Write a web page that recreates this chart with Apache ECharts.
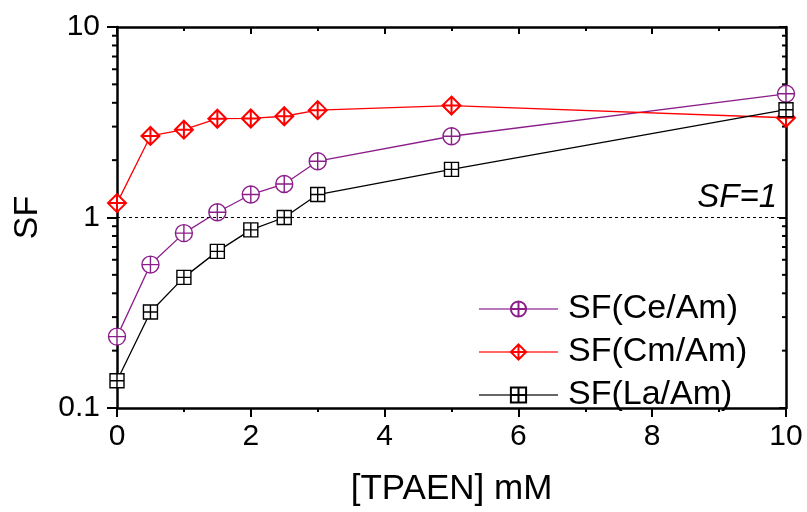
<!DOCTYPE html>
<html>
<head>
<meta charset="utf-8">
<script src="https://cdn.jsdelivr.net/npm/echarts@6/dist/echarts.min.js"></script>
<style>html,body{margin:0;padding:0;background:#fff;}#c{width:807px;height:512px;}</style>
</head>
<body>
<div id="c"></div>
<script>
const xValues = [0, 0.5, 1, 1.5, 2, 2.5, 3, 5, 10];
const sfCeAm = [0.237, 0.566, 0.828, 1.066, 1.32, 1.50, 1.975, 2.67, 4.46];
const sfCmAm = [1.19, 2.68, 2.89, 3.30, 3.31, 3.40, 3.66, 3.87, 3.34];
const sfLaAm = [0.139, 0.319, 0.485, 0.664, 0.861, 1.00, 1.32, 1.79, 3.68];
const seriesNames = ['SF(Ce/Am)', 'SF(Cm/Am)', 'SF(La/Am)'];
const refLineValue = 1;
const refLineLabel = 'SF=1';
const yMinorTickValues = [0.2, 0.3, 0.4, 0.5, 0.6, 0.7, 0.8, 0.9, 2, 3, 4, 5, 6, 7, 8, 9];
const xAxisTitle = '[TPAEN] mM';
const yAxisTitle = 'SF';

const FONT = '"Liberation Sans", Arial, sans-serif';
const pair = (ys) => xValues.map((x, i) => [x, ys[i]]);

const circlePlus = 'path://M10,0 A10,10 0 1,1 10,20 A10,10 0 1,1 10,0 Z M0,10 L20,10 M10,0 L10,20';
const diamondPlus = 'path://M10,0 L20,10 L10,20 L0,10 Z M0,10 L20,10 M10,0 L10,20';
const squarePlus = 'path://M0,0 L20,0 L20,20 L0,20 Z M0,10 L20,10 M10,0 L10,20';

const chart = echarts.init(document.getElementById('c'), null, {renderer: 'canvas'});

const axisLineStyle = {color: '#000', width: 2.5};
const tickStyle = {color: '#000', width: 2};

chart.setOption({
  animation: false,
  backgroundColor: '#fff',
  grid: {left: 117, right: 21, top: 27, bottom: 102, containLabel: false},
  legend: {
    data: seriesNames,
    orient: 'vertical',
    left: 478,
    top: 292,
    itemWidth: 79,
    itemHeight: 19,
    itemGap: 9,
    padding: 0,
    lineStyle: {opacity: 0.6},
    textStyle: {fontFamily: FONT, fontSize: 34, color: '#000', lineHeight: 34, padding: [0, 0, 0, 5]}
  },
  xAxis: [{
    type: 'value', min: 0, max: 10, interval: 2,
    axisLine: {show: true, onZero: false, lineStyle: axisLineStyle},
    axisTick: {show: true, inside: false, length: 9, lineStyle: tickStyle},
    minorTick: {show: true, splitNumber: 2, length: 4, lineStyle: tickStyle},
    splitLine: {show: false},
    axisLabel: {fontFamily: FONT, fontSize: 30, color: '#000', margin: 14},
    name: xAxisTitle, nameLocation: 'middle', nameGap: 64,
    nameTextStyle: {fontFamily: FONT, fontSize: 35, color: '#000'}
  }, {
    type: 'value', min: 0, max: 10, interval: 2, position: 'top',
    axisLine: {show: true, onZero: false, lineStyle: axisLineStyle},
    axisTick: {show: true, inside: true, length: 7, lineStyle: tickStyle},
    minorTick: {show: true, splitNumber: 2, length: 4, lineStyle: tickStyle},
    splitLine: {show: false},
    axisLabel: {show: false}
  }],
  yAxis: [{
    type: 'log', logBase: 10, min: 0.1, max: 10,
    axisLine: {show: true, onZero: false, lineStyle: axisLineStyle},
    axisTick: {show: true, inside: false, length: 10, lineStyle: tickStyle},
    minorTick: {show: false},
    splitLine: {show: false},
    axisLabel: {fontFamily: FONT, fontSize: 30, color: '#000', margin: 17,
      formatter: (v) => String(Number(Number(v).toPrecision(3)))},
    name: yAxisTitle, nameLocation: 'middle', nameGap: 72,
    nameTextStyle: {fontFamily: FONT, fontSize: 34, color: '#000'}
  }, {
    type: 'log', logBase: 10, min: 0.1, max: 10, position: 'right',
    axisLine: {show: true, onZero: false, lineStyle: axisLineStyle},
    axisTick: {show: true, inside: true, length: 7, lineStyle: tickStyle},
    minorTick: {show: false},
    splitLine: {show: false},
    axisLabel: {show: false}
  }],
  series: [
    {
      name: seriesNames[0], type: 'line', data: pair(sfCeAm),
      symbol: circlePlus, symbolSize: 17,
      lineStyle: {color: '#8B1E8B', width: 1.3},
      itemStyle: {color: '#fff', borderColor: '#8B1E8B', borderWidth: 1.4},
      z: 3
    },
    {
      name: seriesNames[1], type: 'line', data: pair(sfCmAm),
      symbol: diamondPlus, symbolSize: 18,
      lineStyle: {color: '#FF0000', width: 1.3},
      itemStyle: {color: '#fff', borderColor: '#FF0000', borderWidth: 2},
      z: 3
    },
    {
      name: seriesNames[2], type: 'line', data: pair(sfLaAm),
      symbol: squarePlus, symbolSize: 14,
      lineStyle: {color: '#000', width: 1.3},
      itemStyle: {color: '#fff', borderColor: '#000', borderWidth: 1.4},
      z: 3,
      markLine: {
        silent: true, symbol: 'none',
        lineStyle: {color: '#000', width: 1, type: [3, 3]},
        data: [{yAxis: refLineValue}],
        label: {
          show: true, position: 'insideEndTop', formatter: refLineLabel,
          fontFamily: FONT, fontSize: 33, fontStyle: 'italic', color: '#000',
          distance: [9, 3]
        }
      }
    },
    {
      name: 'minorTicks', type: 'custom', silent: true, z: 1,
      xAxisIndex: 0, yAxisIndex: 0,
      data: yMinorTickValues.map(v => [0, v]),
      renderItem: (params, api) => {
        const v = api.value(1);
        const pl = api.coord([0, v]);
        const pr = api.coord([10, v]);
        return {
          type: 'group',
          children: [
            {type: 'line', shape: {x1: pl[0] - 5, y1: pl[1], x2: pl[0], y2: pl[1]}, style: {stroke: '#000', lineWidth: 2}},
            {type: 'line', shape: {x1: pr[0] - 4, y1: pr[1], x2: pr[0], y2: pr[1]}, style: {stroke: '#000', lineWidth: 2}}
          ]
        };
      }
    }
  ]
});
</script>
</body>
</html>
